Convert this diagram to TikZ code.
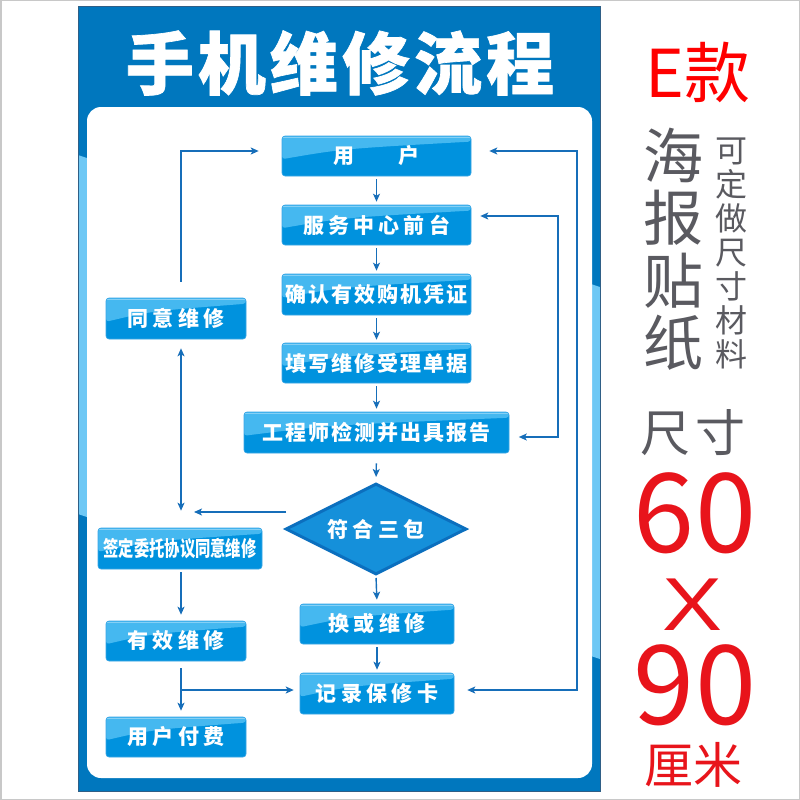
\documentclass[tikz,border=0pt]{standalone}
\usepackage{fontspec}
\newfontfamily\cjk{Noto Sans CJK SC}
\newfontfamily\lat{Liberation Sans}
\usetikzlibrary{shapes.geometric,arrows.meta,calc}
\definecolor{posterblue}{HTML}{0077BE}
\definecolor{posteredge}{HTML}{2F5F86}
\definecolor{stripe}{HTML}{6EC8F5}
\definecolor{boxblue}{HTML}{0092DE}
\definecolor{boxlight}{HTML}{45B8F0}
\definecolor{boxedge}{HTML}{3AA6E6}
\definecolor{diablue}{HTML}{1590DA}
\definecolor{diaedge}{HTML}{0B6FBE}
\definecolor{arrowc}{HTML}{166EB9}
\definecolor{graytxt}{HTML}{5A5A60}
\definecolor{redtxt}{HTML}{E8141B}
\definecolor{framegray}{HTML}{C8C8C8}
\tikzset{
  flowbox/.style={rounded corners=3pt, fill=boxblue, draw=boxedge, line width=0.6pt,
    inner sep=0pt, text=white,
    path picture={
      \fill[boxlight] (path picture bounding box.north west)
        -- ($(path picture bounding box.north west)!0.58!(path picture bounding box.south west)$)
        .. controls ($(path picture bounding box.north west)!0.32!(path picture bounding box.south east)$)
        .. ($(path picture bounding box.north east)!0.14!(path picture bounding box.south east)$)
        -- (path picture bounding box.north east) -- cycle;
      \draw[white, opacity=0.35, line width=1pt] ([yshift=-1pt]path picture bounding box.north west) -- ([yshift=-1pt]path picture bounding box.north east);
    }},
  wide/.style={font=\cjk\bfseries\fontsize{21}{21}\selectfont\addfontfeature{LetterSpace=21}},
  tight/.style={font=\cjk\bfseries\fontsize{21}{21}\selectfont\addfontfeature{LetterSpace=9}},
  sidetxt/.style={inner sep=0pt},
  arr/.style={draw=arrowc, line width=1.4pt, -{Stealth[length=8pt,width=7pt,inset=2pt]}},
  arrtwo/.style={draw=arrowc, line width=1.4pt, {Stealth[length=8pt,width=7pt,inset=2pt]}-{Stealth[length=8pt,width=7pt,inset=2pt]}},
}
\begin{document}
\begin{tikzpicture}[x=1pt,y=-1pt]
\useasboundingbox (0,0) rectangle (800,800);
\fill[white] (0,0) rectangle (800,800);
\draw[framegray, line width=1.5pt] (0.75,0.75) rectangle (799.25,799.25);
% poster
\fill[posterblue] (78,7) rectangle (600,791);
\fill[stripe] (78,155) -- (87,158) -- (87,517) -- (78,514) -- cycle;
\fill[stripe] (591,284) -- (600,287) -- (600,659) -- (591,656) -- cycle;
\draw[posteredge, line width=1pt] (78,7) rectangle (600,791);
\fill[white, rounded corners=14pt] (87,107) rectangle (592,778);
% title
\node[font=\cjk\bfseries\fontsize{68}{68}\selectfont\addfontfeature{LetterSpace=6,FakeBold=1}, text=white] (title) at (340,63) {手机维修流程};
% main column
\node[flowbox, wide, minimum width=189pt, minimum height=40pt] (user) at (376.5,156) {用\hspace{44pt}户};
\node[flowbox, wide, minimum width=189pt, minimum height=40pt, font=\cjk\bfseries\fontsize{21}{21}\selectfont\addfontfeature{LetterSpace=20}] (front) at (376.5,225) {服务中心前台};
\node[flowbox, tight, minimum width=189pt, minimum height=41pt] (confirm) at (376.5,294.5) {确认有效购机凭证};
\node[flowbox, tight, minimum width=189pt, minimum height=40pt] (fillform) at (376.5,363) {填写维修受理单据};
\node[flowbox, tight, minimum width=265pt, minimum height=41pt] (eng) at (376.5,432.5) {工程师检测并出具报告};
\node[diamond, aspect=2, fill=diablue, draw=diaedge, line width=3pt, minimum width=181pt, minimum height=91pt, inner sep=0pt, text=white, wide] (dia) at (376,529) {符合三包};
\node[flowbox, wide, minimum width=154pt, minimum height=40pt] (swap) at (377,624) {换或维修};
\node[flowbox, wide, minimum width=154pt, minimum height=41pt] (record) at (377,693.5) {记录保修卡};
% left column
\node[flowbox, wide, minimum width=140pt, minimum height=41pt] (agree) at (176,318.5) {同意维修};
\node[flowbox, font=\cjk\bfseries\fontsize{21}{21}\selectfont, minimum width=164pt, minimum height=41pt] (sign) at (180,548.5) {\scalebox{0.73}[1]{签定委托协议同意维修}};
\node[flowbox, wide, minimum width=140pt, minimum height=40pt] (eff) at (176,641) {有效维修};
\node[flowbox, wide, minimum width=140pt, minimum height=40pt] (pay) at (176,737) {用户付费};
% column coordinates
\coordinate (lx) at (181,0);
\coordinate (ro) at (577,0);
\coordinate (ri) at (558,0);
% main arrows
\draw[arr, shorten <=3pt, shorten >=3pt] (user) -- (front);
\draw[arr, shorten <=3pt, shorten >=3pt] (front) -- (confirm);
\draw[arr, shorten <=3pt, shorten >=3pt] (confirm) -- (fillform);
\draw[arr, shorten <=3pt, shorten >=3pt] (fillform) -- (eng);
\draw[arr, shorten <=10pt, shorten >=5pt] (eng.south) -- (dia.north);
\draw[arr, shorten <=2pt, shorten >=4pt] (dia.south) -- (swap.north);
\draw[arr, shorten <=3pt, shorten >=3pt] (swap) -- (record);
% left loop
\coordinate (lstart) at ([yshift=16pt]agree.north -| lx);
\coordinate (utip) at ([xshift=-23pt,yshift=5pt]user.west);
\draw[arr] (lstart) |- (utip);
\coordinate (dtop) at ([yshift=-9pt]agree.south -| lx);
\coordinate (dbot) at ([yshift=17pt]sign.north -| lx);
\draw[arrtwo] (dtop) -- (dbot);
\coordinate (dl) at ([xshift=2pt,yshift=17pt]dia.west);
\draw[arr] (dl) -- ([xshift=13pt]dl -| lx);
\draw[arr, shorten <=3pt, shorten >=6pt] (sign.south -| lx) -- (eff.north -| lx);
\draw[arr, shorten <=7pt, shorten >=6pt] (eff.south -| lx) -- (pay.north -| lx);
\coordinate (rin) at ([xshift=-6pt,yshift=3.5pt]record.west);
\draw[arr] (lx |- rin) -- (rin);
% right loops
\coordinate (ra) at ([xshift=13pt,yshift=3.5pt]record.east);
\coordinate (rb) at ([xshift=18pt,yshift=5pt]user.east);
\draw[arrtwo] (ra) -- (ra -| ro) -- (rb -| ro) -- (rb);
\coordinate (ia) at ([xshift=9pt,yshift=9pt]front.east);
\coordinate (ib) at ([xshift=9.5pt,yshift=-4.5pt]eng.east);
\draw[arrtwo] (ia) -- (ia -| ri) -- (ib -| ri) -- (ib);
% right side texts
\node[sidetxt, font=\cjk\fontsize{66}{66}\selectfont, text=red] (ek) at (698,72) {E款};
\node[sidetxt, font=\cjk\fontsize{60}{62.5}\selectfont, text=graytxt, align=center] (hb) at (673,249) {海\\报\\贴\\纸};
\node[sidetxt, font=\cjk\fontsize{32}{34}\selectfont, text=graytxt, align=center] (kd) at (731,253.5) {可\\定\\做\\尺\\寸\\材\\料};
\node[sidetxt, font=\cjk\fontsize{50}{50}\selectfont\addfontfeature{LetterSpace=10}, text=graytxt] (cc) at (692.5,432.5) {尺寸};
\node[sidetxt, font=\cjk\fontsize{110}{110}\selectfont, text=redtxt] (n60) at (695,513) {60};
\node[sidetxt, font=\lat\fontsize{75}{75}\selectfont, text=redtxt] (xx) at (693,605) {\scalebox{1.2}[1]{X}};
\node[sidetxt, font=\cjk\fontsize{110}{110}\selectfont, text=redtxt] (n90) at (695,685) {90};
\node[sidetxt, font=\cjk\fontsize{49}{49}\selectfont, text=redtxt] (lm) at (693,765) {厘米};
\end{tikzpicture}
\end{document}
